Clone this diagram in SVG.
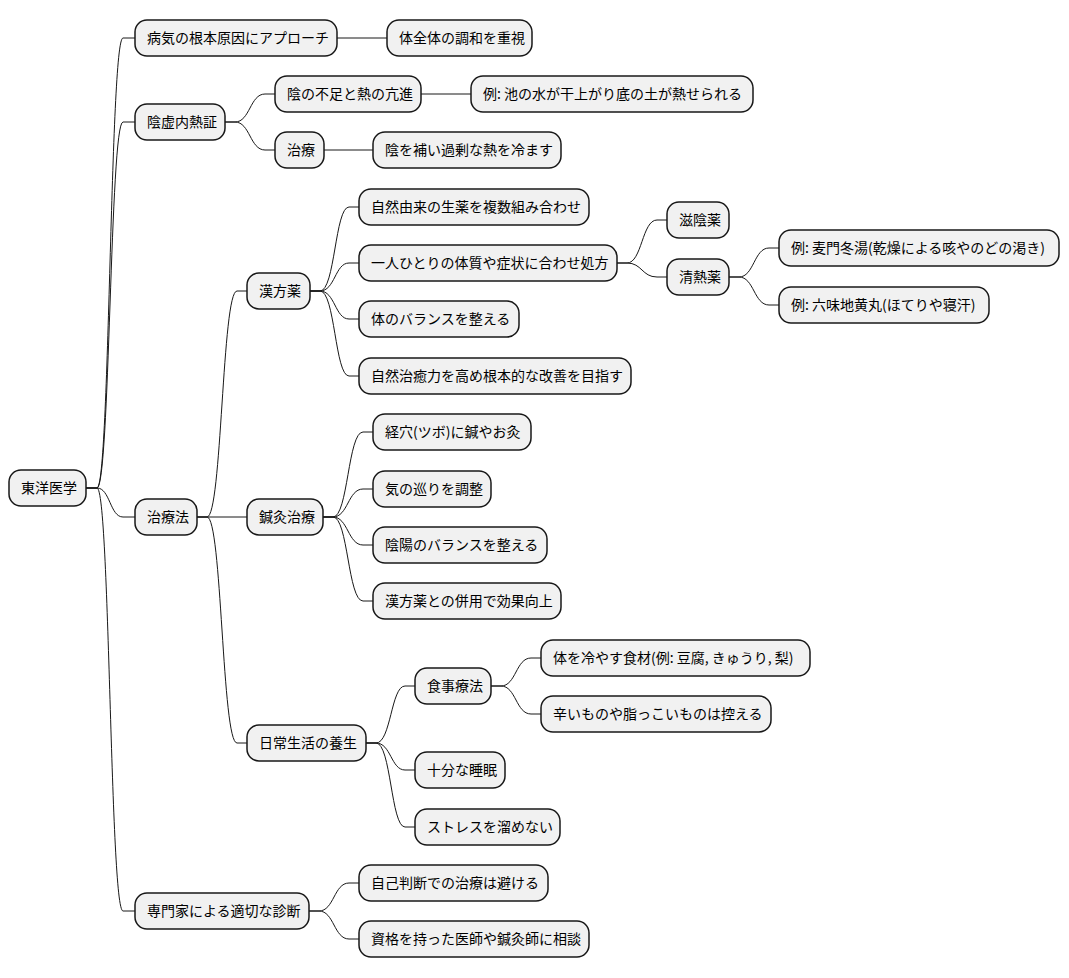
<svg xmlns="http://www.w3.org/2000/svg" width="1069" height="978" viewBox="0 0 1069 978">
<style>
.n rect{fill:#F1F1F1;stroke:#181818;stroke-width:1.5}
.n text{font-family:"Noto Sans CJK JP","Noto Sans",sans-serif;font-size:14px;fill:#000}
#c path{fill:none;stroke:#181818;stroke-width:1}
</style>
<rect width="1069" height="978" fill="#fff"/>
<g id="c">
<path d="M86 488 L97 488 C110 488,110 38,123 38 L135 38"/>
<path d="M86 488 L97 488 C110 488,110 122,123 122 L135 122"/>
<path d="M86 488 L97 488 C110 488,110 517,123 517 L135 517"/>
<path d="M86 488 L97 488 C110 488,110 911,123 911 L135 911"/>
<path d="M337 38 L387 38"/>
<path d="M225 122 L235 122 C250 122,250 94,265 94 L275 94"/>
<path d="M225 122 L235 122 C250 122,250 150,265 150 L275 150"/>
<path d="M421 94 L471 94"/>
<path d="M324 150 L373 150"/>
<path d="M197 517 L207 517 C222 517,222 291,237 291 L247 291"/>
<path d="M197 517 L247 517"/>
<path d="M197 517 L207 517 C222 517,222 743,237 743 L247 743"/>
<path d="M310 291 L320 291 C335 291,335 207,349 207 L359 207"/>
<path d="M310 291 L320 291 C335 291,335 263,349 263 L359 263"/>
<path d="M310 291 L320 291 C335 291,335 319,349 319 L359 319"/>
<path d="M310 291 L320 291 C335 291,335 376,349 376 L359 376"/>
<path d="M617 263 L627 263 C642 263,642 220,657 220 L667 220"/>
<path d="M617 263 L627 263 C642 263,642 277,657 277 L667 277"/>
<path d="M729 277 L739 277 C754 277,754 248,769 248 L779 248"/>
<path d="M729 277 L739 277 C754 277,754 305,769 305 L779 305"/>
<path d="M323 517 L333 517 C348 517,348 432,363 432 L373 432"/>
<path d="M323 517 L333 517 C348 517,348 489,363 489 L373 489"/>
<path d="M323 517 L333 517 C348 517,348 545,363 545 L373 545"/>
<path d="M323 517 L333 517 C348 517,348 601,363 601 L373 601"/>
<path d="M366 743 L376 743 C391 743,391 686,405 686 L415 686"/>
<path d="M366 743 L376 743 C391 743,391 770,405 770 L415 770"/>
<path d="M366 743 L376 743 C391 743,391 827,405 827 L415 827"/>
<path d="M491 686 L501 686 C516 686,516 658,531 658 L541 658"/>
<path d="M491 686 L501 686 C516 686,516 714,531 714 L541 714"/>
<path d="M309 911 L319 911 C334 911,334 883,349 883 L359 883"/>
<path d="M309 911 L319 911 C334 911,334 939,349 939 L359 939"/>
</g>
<g id="root" class="n"><rect x="9" y="470" width="77" height="36" rx="12"/><text x="21" y="493">東洋医学</text></g>
<g id="n1" class="n"><rect x="135" y="20" width="202" height="36" rx="12"/><text x="147" y="43">病気の根本原因にアプローチ</text></g>
<g id="n2" class="n"><rect x="135" y="104" width="90" height="36" rx="12"/><text x="147" y="127">陰虚内熱証</text></g>
<g id="n3" class="n"><rect x="135" y="499" width="62" height="36" rx="12"/><text x="147" y="522">治療法</text></g>
<g id="n4" class="n"><rect x="135" y="893" width="174" height="36" rx="12"/><text x="147" y="916">専門家による適切な診断</text></g>
<g id="n5" class="n"><rect x="387" y="20" width="145" height="36" rx="12"/><text x="399" y="43">体全体の調和を重視</text></g>
<g id="n6" class="n"><rect x="275" y="76" width="146" height="36" rx="12"/><text x="287" y="99">陰の不足と熱の亢進</text></g>
<g id="n7" class="n"><rect x="275" y="132" width="49" height="36" rx="12"/><text x="287" y="155">治療</text></g>
<g id="n8" class="n"><rect x="471" y="76" width="282" height="36" rx="12"/><text x="483" y="99">例: 池の水が干上がり底の土が熱せられる</text></g>
<g id="n9" class="n"><rect x="373" y="132" width="188" height="36" rx="12"/><text x="385" y="155">陰を補い過剰な熱を冷ます</text></g>
<g id="n10" class="n"><rect x="247" y="273" width="63" height="36" rx="12"/><text x="259" y="296">漢方薬</text></g>
<g id="n11" class="n"><rect x="247" y="499" width="76" height="36" rx="12"/><text x="259" y="522">鍼灸治療</text></g>
<g id="n12" class="n"><rect x="247" y="725" width="119" height="36" rx="12"/><text x="259" y="748">日常生活の養生</text></g>
<g id="n13" class="n"><rect x="359" y="189" width="230" height="36" rx="12"/><text x="371" y="212">自然由来の生薬を複数組み合わせ</text></g>
<g id="n14" class="n"><rect x="359" y="245" width="258" height="36" rx="12"/><text x="371" y="268">一人ひとりの体質や症状に合わせ処方</text></g>
<g id="n15" class="n"><rect x="359" y="301" width="160" height="36" rx="12"/><text x="371" y="324">体のバランスを整える</text></g>
<g id="n16" class="n"><rect x="359" y="358" width="272" height="36" rx="12"/><text x="371" y="381">自然治癒力を高め根本的な改善を目指す</text></g>
<g id="n17" class="n"><rect x="667" y="202" width="62" height="36" rx="12"/><text x="679" y="225">滋陰薬</text></g>
<g id="n18" class="n"><rect x="667" y="259" width="62" height="36" rx="12"/><text x="679" y="282">清熱薬</text></g>
<g id="n19" class="n"><rect x="779" y="230" width="280" height="36" rx="12"/><text x="791" y="253">例: 麦門冬湯(乾燥による咳やのどの渇き)</text></g>
<g id="n20" class="n"><rect x="779" y="287" width="210" height="36" rx="12"/><text x="791" y="310">例: 六味地黄丸(ほてりや寝汗)</text></g>
<g id="n21" class="n"><rect x="373" y="414" width="158" height="36" rx="12"/><text x="385" y="437">経穴(ツボ)に鍼やお灸</text></g>
<g id="n22" class="n"><rect x="373" y="471" width="118" height="36" rx="12"/><text x="385" y="494">気の巡りを調整</text></g>
<g id="n23" class="n"><rect x="373" y="527" width="174" height="36" rx="12"/><text x="385" y="550">陰陽のバランスを整える</text></g>
<g id="n24" class="n"><rect x="373" y="583" width="188" height="36" rx="12"/><text x="385" y="606">漢方薬との併用で効果向上</text></g>
<g id="n25" class="n"><rect x="415" y="668" width="76" height="36" rx="12"/><text x="427" y="691">食事療法</text></g>
<g id="n26" class="n"><rect x="415" y="752" width="90" height="36" rx="12"/><text x="427" y="775">十分な睡眠</text></g>
<g id="n27" class="n"><rect x="415" y="809" width="145" height="36" rx="12"/><text x="427" y="832">ストレスを溜めない</text></g>
<g id="n28" class="n"><rect x="541" y="640" width="269" height="36" rx="12"/><text x="553" y="663">体を冷やす食材(例: 豆腐, きゅうり, 梨)</text></g>
<g id="n29" class="n"><rect x="541" y="696" width="230" height="36" rx="12"/><text x="553" y="719">辛いものや脂っこいものは控える</text></g>
<g id="n30" class="n"><rect x="359" y="865" width="189" height="36" rx="12"/><text x="371" y="888">自己判断での治療は避ける</text></g>
<g id="n31" class="n"><rect x="359" y="921" width="230" height="36" rx="12"/><text x="371" y="944">資格を持った医師や鍼灸師に相談</text></g>
</svg>
